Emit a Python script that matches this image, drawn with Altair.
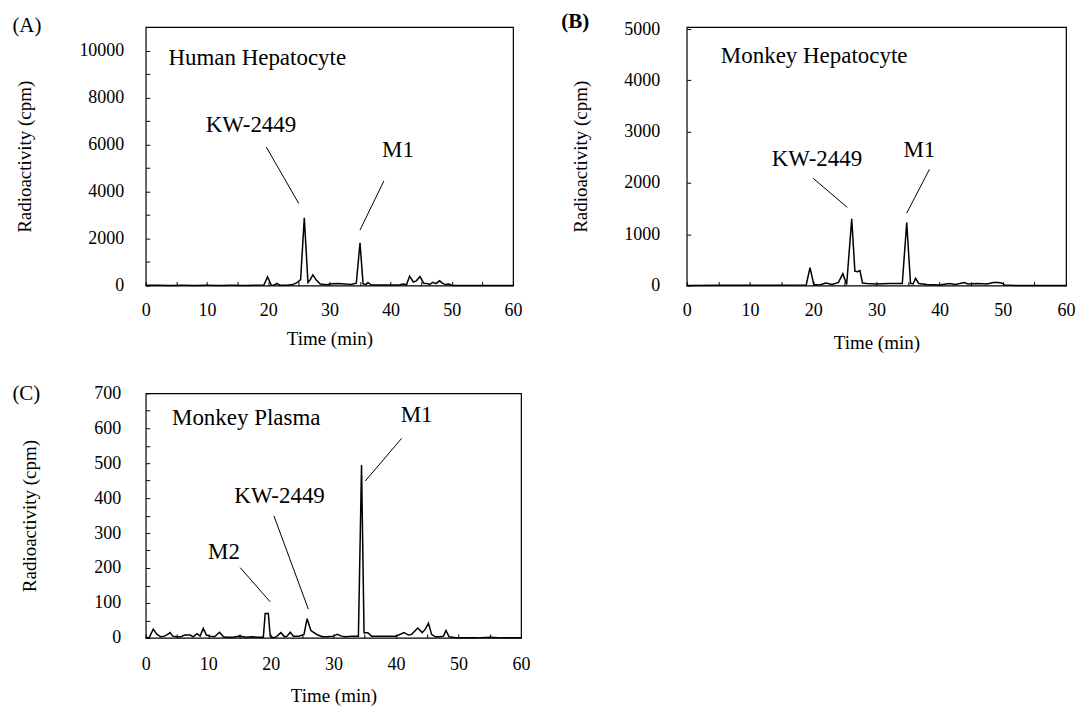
import altair as alt
import pandas as pd

FONT = "Liberation Serif"

# ---------------- data ----------------
# Panel A : Human Hepatocyte
a_time = [0, 2, 4, 6, 8, 10, 12, 14, 16, 18, 19.3, 19.9, 20.5, 21.0, 21.4, 21.9, 23.0, 24.0, 24.7,
          25.3, 25.9, 26.5, 26.9, 27.3, 27.9, 28.5, 29.5, 30.5, 31.5, 32.5, 33.5, 34.4, 35.0, 35.5,
          36.0, 36.3, 36.8, 37.5, 39.0, 40.5, 41.5, 42.1, 42.6, 43.1, 43.7, 44.2, 44.8, 45.4, 45.9,
          46.4, 46.9, 47.4, 48.0, 48.5, 49.0, 49.5, 50.0, 50.5, 52, 55, 58, 60]
a_cpm = [10, 10, 5, 10, 5, 10, 5, 10, 5, 10, 20, 370, 20, 15, 90, 15, 10, 40, 120,
         250, 2880, 130, 260, 450, 220, 60, 30, 80, 90, 70, 40, 100, 1820, 70,
         50, 130, 30, 20, 20, 20, 30, 60, 30, 400, 150, 200, 380, 100, 90,
         50, 140, 80, 200, 90, 40, 60, 10, 0, 0, 0, 0, 0]

# Panel B : Monkey Hepatocyte
b_time = [0, 5, 10, 15, 18.9, 19.5, 20.1, 21.0, 22.0, 23.0, 24.0, 24.7, 25.3, 26.1, 26.6, 27.0,
          27.4, 27.8, 28.5, 30, 32, 34.1, 34.8, 35.4, 35.8, 36.2, 36.7, 38, 40, 41.5, 42.5, 43.9,
          44.5, 46, 47.5, 48.5, 49.2, 49.8, 50.3, 52, 55, 60]
b_cpm = [0, 5, 5, 5, 10, 350, 20, 10, 50, 20, 60, 230, 20, 1300, 280, 270,
         290, 50, 40, 30, 40, 40, 1230, 40, 30, 140, 40, 20, 10, 40, 20, 60,
         30, 40, 30, 60, 60, 50, 10, 0, 0, 0]

# Panel C : Monkey Plasma
c_time = [0, 0.6, 1.2, 1.8, 2.4, 3.0, 3.5, 3.9, 4.3, 5.0, 5.6, 6.2, 7.1, 7.6, 8.2, 8.7, 9.2, 9.7,
          10.3, 11.0, 11.8, 12.4, 13.0, 14.0, 15.0, 16.0, 17.0, 18.0, 18.8, 19.1, 19.6, 19.9, 20.5,
          21.0, 21.6, 22.2, 22.6, 23.1, 23.6, 24.5, 25.3, 25.8, 26.4, 26.9, 27.5, 28.3, 29.0, 30.0,
          30.6, 31.3, 32.0, 33.0, 34.0, 34.5, 34.9, 35.5, 36.1, 37.0, 38.0, 39.0, 40.0, 41.3, 42.0,
          42.5, 43.5, 44.2, 44.7, 45.2, 45.7, 46.3, 47.0, 47.6, 48.0, 48.5, 49.0, 50.0, 51.0, 53,
          55, 57, 60]
c_cpm = [0, 2, 25, 10, 3, 5, 10, 15, 5, 3, 3, 8, 8, 3, 12, 5, 27, 8,
         5, 3, 16, 3, 2, 2, 5, 2, 3, 2, 2, 70, 70, 5, 0,
         5, 15, 3, 5, 16, 5, 5, 10, 55, 21, 15, 8, 3, 3, 5,
         10, 5, 3, 5, 5, 495, 15, 15, 5, 5, 5, 5, 5, 15, 8,
         10, 28, 15, 25, 42, 10, 3, 3, 5, 21, 3, 2, 0, 0, 0,
         2, 0, 0]

# panel names (left aligned) and peak labels (centered)
a_name, a_name_t, a_name_v = ["Human Hepatocyte"], [3.7], [9364]
b_name, b_name_t, b_name_v = ["Monkey Hepatocyte"], [5.4], [4342]
c_name, c_name_t, c_name_v = ["Monkey Plasma"], [4.2], [610]

a_lab, a_lab_t, a_lab_v = ["KW-2449", "M1"], [17.2, 41.2], [6525, 5466]
b_lab, b_lab_t, b_lab_v = ["KW-2449", "M1"], [20.6, 36.8], [2324, 2500]
c_lab, c_lab_t, c_lab_v = ["M2", "KW-2449", "M1"], [12.5, 21.4, 43.3], [225, 386, 618]

# leader lines
a_l_t1, a_l_v1, a_l_t2, a_l_v2 = [19.7, 38.9], [5890, 4449], [25.0, 35.0], [3487, 2360]
b_l_t1, b_l_v1, b_l_t2, b_l_v2 = [20.0, 38.4], [2090, 2266], [25.4, 34.8], [1523, 1412]
c_l_t1, c_l_v1, c_l_t2, c_l_v2 = [15.1, 20.5, 40.9], [201, 349, 571], [19.9, 26.0, 35.1], [103, 82, 449]


def panel(tag, bold, tag_dx, tag_dy, time, cpm, ymax, ystep, ylabstep, width, height,
          name, name_t, name_v, lab, lab_t, lab_v, lt1, lv1, lt2, lv2,
          ylab_pad, ytitle_pad, xlab_pad, xtitle_pad):
    xs = alt.Scale(domain=[0, 60], nice=False, zero=False)
    ys = alt.Scale(domain=[0, ymax], nice=False)
    top_tick = int(ymax // ystep) * ystep
    yvals = list(range(0, int(top_tick) + 1, ystep))
    xaxis = alt.Axis(values=list(range(0, 61, 5)), format="d",
                     labelExpr="datum.value % 10 == 0 ? datum.label : ''",
                     labelFontSize={"condition": {"test": "datum.value % 10 == 0", "value": 18},
                                    "value": 0},
                     title="Time (min)", offset=-4, tickSize=4, labelPadding=xlab_pad,
                     titlePadding=xtitle_pad, labelFlush=False, labelOverlap=False,
                     labelBound=False)
    yaxis = alt.Axis(values=yvals, format="d",
                     labelExpr=f"datum.value % {ylabstep} == 0 ? datum.label : ''",
                     labelFontSize={"condition": {"test": f"datum.value % {ylabstep} == 0",
                                                  "value": 18}, "value": 0},
                     title="Radioactivity (cpm)", offset=-4, tickSize=4, labelPadding=ylab_pad,
                     titlePadding=ytitle_pad, labelFlush=False, labelOverlap=False,
                     labelBound=False)
    X = lambda f: alt.X(f, scale=xs, axis=xaxis)
    Y = lambda f: alt.Y(f, scale=ys, axis=yaxis)
    df = pd.DataFrame({"t": time, "v": cpm})
    trace = alt.Chart(df).mark_line(color="black", strokeWidth=1.5).encode(
        x=X("t:Q"), y=Y("v:Q"))
    ndf = pd.DataFrame({"txt": name, "t": name_t, "v": name_v})
    ntext = alt.Chart(ndf).mark_text(align="left", baseline="alphabetic", fontSize=23,
                                     font=FONT, color="black").encode(
        x=X("t:Q"), y=Y("v:Q"), text="txt:N")
    ldf = pd.DataFrame({"txt": lab, "t": lab_t, "v": lab_v})
    ltext = alt.Chart(ldf).mark_text(align="center", baseline="alphabetic", fontSize=23,
                                     font=FONT, color="black").encode(
        x=X("t:Q"), y=Y("v:Q"), text="txt:N")
    rdf = pd.DataFrame({"t": lt1, "v": lv1, "t2": lt2, "v2": lv2})
    rules = alt.Chart(rdf).mark_rule(color="black", strokeWidth=1).encode(
        x=X("t:Q"), y=Y("v:Q"), x2="t2:Q", y2="v2:Q")
    tdf = pd.DataFrame({"tag": [tag]})
    tagm = alt.Chart(tdf).mark_text(align="left", baseline="top", fontSize=21, font=FONT,
                                    fontWeight="bold" if bold else "normal",
                                    color="black").encode(
        x=alt.value(tag_dx), y=alt.value(tag_dy), text="tag:N")
    return alt.layer(trace, rules, ntext, ltext, tagm).properties(width=width, height=height)


A = panel("(A)", False, -133.6, -11.5, a_time, a_cpm, 11000, 1000, 2000, 368, 259,
          a_name, a_name_t, a_name_v, a_lab, a_lab_t, a_lab_v,
          a_l_t1, a_l_v1, a_l_t2, a_l_v2, 22, 44, 15.7, 10.5)
B = panel("(B)", True, -125.6, -16.5, b_time, b_cpm, 5040, 1000, 1000, 380, 259,
          b_name, b_name_t, b_name_v, b_lab, b_lab_t, b_lab_v,
          b_l_t1, b_l_v1, b_l_t2, b_l_v2, 27, 33, 15.7, 14)
C = panel("(C)", False, -133.6, -10, c_time, c_cpm, 700, 50, 100, 376, 245,
          c_name, c_name_t, c_name_v, c_lab, c_lab_t, c_lab_v,
          c_l_t1, c_l_v1, c_l_t2, c_l_v2, 25, 54, 17.7, 12.6)

chart = alt.concat(A, B, C, columns=2, spacing={"row": 108, "column": 166}, bounds="flush").properties(
    padding={"left": 11, "top": 8.4, "right": 5, "bottom": 5}
).configure(font=FONT).configure_view(
    stroke="black", strokeWidth=1.2
).configure_axis(
    grid=False, domain=False, labelFont=FONT, titleFont=FONT,
    titleFontSize=19, titleFontWeight="normal", labelColor="black", titleColor="black",
    tickColor="black", tickWidth=1
)

chart.save("out.html", embed_options={"renderer": "svg", "actions": False})
